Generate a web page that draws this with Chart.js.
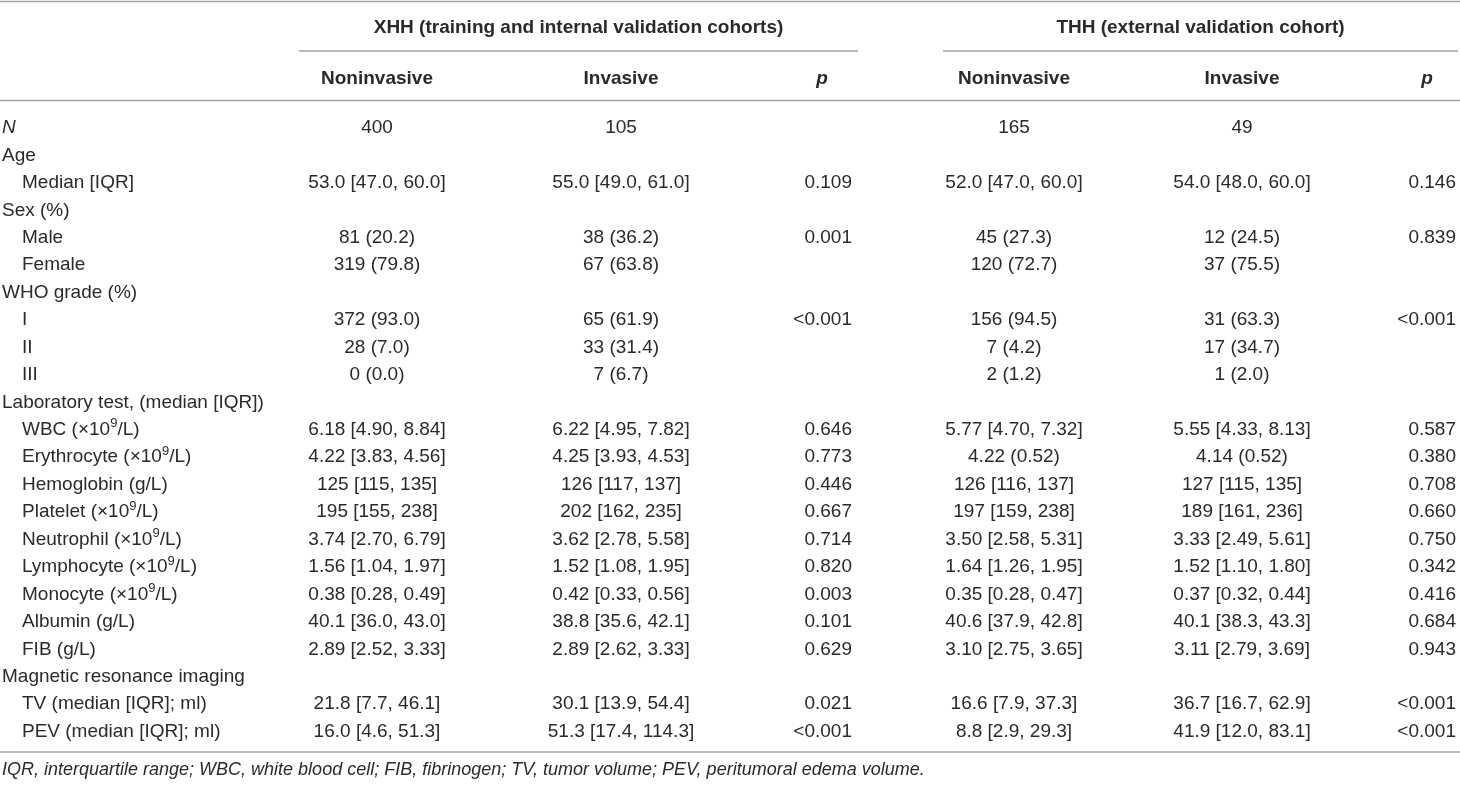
<!DOCTYPE html>
<html>
<head>
<meta charset="utf-8">
<title>Baseline characteristics</title>
<script src="https://cdn.jsdelivr.net/npm/chart.js@4"></script>
<style>
  html, body { margin: 0; padding: 0; background: #fff; }
  #wrap { width: 1460px; height: 785px; position: relative; }
</style>
</head>
<body>
<div id="wrap"><canvas id="tableChart"></canvas></div>
<script>
// table content
const groupLabels = ['XHH (training and internal validation cohorts)', 'THH (external validation cohort)'];
const subHeaders = ['Noninvasive', 'Invasive', 'p', 'Noninvasive', 'Invasive', 'p'];

const rowLabels = ['N', 'Age', 'Median [IQR]', 'Sex (%)', 'Male', 'Female', 'WHO grade (%)', 'I', 'II', 'III',
  'Laboratory test, (median [IQR])', 'WBC (×10⁹/L)', 'Erythrocyte (×10⁹/L)', 'Hemoglobin (g/L)', 'Platelet (×10⁹/L)',
  'Neutrophil (×10⁹/L)', 'Lymphocyte (×10⁹/L)', 'Monocyte (×10⁹/L)', 'Albumin (g/L)', 'FIB (g/L)',
  'Magnetic resonance imaging', 'TV (median [IQR]; ml)', 'PEV (median [IQR]; ml)'];
const rowIndent = [0, 0, 1, 0, 1, 1, 0, 1, 1, 1, 0, 1, 1, 1, 1, 1, 1, 1, 1, 1, 0, 1, 1];

const xhhNoninvasive = ['400', '', '53.0 [47.0, 60.0]', '', '81 (20.2)', '319 (79.8)', '', '372 (93.0)', '28 (7.0)', '0 (0.0)',
  '', '6.18 [4.90, 8.84]', '4.22 [3.83, 4.56]', '125 [115, 135]', '195 [155, 238]', '3.74 [2.70, 6.79]', '1.56 [1.04, 1.97]',
  '0.38 [0.28, 0.49]', '40.1 [36.0, 43.0]', '2.89 [2.52, 3.33]', '', '21.8 [7.7, 46.1]', '16.0 [4.6, 51.3]'];
const xhhInvasive = ['105', '', '55.0 [49.0, 61.0]', '', '38 (36.2)', '67 (63.8)', '', '65 (61.9)', '33 (31.4)', '7 (6.7)',
  '', '6.22 [4.95, 7.82]', '4.25 [3.93, 4.53]', '126 [117, 137]', '202 [162, 235]', '3.62 [2.78, 5.58]', '1.52 [1.08, 1.95]',
  '0.42 [0.33, 0.56]', '38.8 [35.6, 42.1]', '2.89 [2.62, 3.33]', '', '30.1 [13.9, 54.4]', '51.3 [17.4, 114.3]'];
const xhhP = ['', '', '0.109', '', '0.001', '', '', '<0.001', '', '', '', '0.646', '0.773', '0.446', '0.667', '0.714', '0.820',
  '0.003', '0.101', '0.629', '', '0.021', '<0.001'];
const thhNoninvasive = ['165', '', '52.0 [47.0, 60.0]', '', '45 (27.3)', '120 (72.7)', '', '156 (94.5)', '7 (4.2)', '2 (1.2)',
  '', '5.77 [4.70, 7.32]', '4.22 (0.52)', '126 [116, 137]', '197 [159, 238]', '3.50 [2.58, 5.31]', '1.64 [1.26, 1.95]',
  '0.35 [0.28, 0.47]', '40.6 [37.9, 42.8]', '3.10 [2.75, 3.65]', '', '16.6 [7.9, 37.3]', '8.8 [2.9, 29.3]'];
const thhInvasive = ['49', '', '54.0 [48.0, 60.0]', '', '12 (24.5)', '37 (75.5)', '', '31 (63.3)', '17 (34.7)', '1 (2.0)',
  '', '5.55 [4.33, 8.13]', '4.14 (0.52)', '127 [115, 135]', '189 [161, 236]', '3.33 [2.49, 5.61]', '1.52 [1.10, 1.80]',
  '0.37 [0.32, 0.44]', '40.1 [38.3, 43.3]', '3.11 [2.79, 3.69]', '', '36.7 [16.7, 62.9]', '41.9 [12.0, 83.1]'];
const thhP = ['', '', '0.146', '', '0.839', '', '', '<0.001', '', '', '', '0.587', '0.380', '0.708', '0.660', '0.750', '0.342',
  '0.416', '0.684', '0.943', '', '<0.001', '<0.001'];

const footnote = 'IQR, interquartile range; WBC, white blood cell; FIB, fibrinogen; TV, tumor volume; PEV, peritumoral edema volume.';

document.addEventListener("DOMContentLoaded", function () {
  const columns = [xhhNoninvasive, xhhInvasive, xhhP, thhNoninvasive, thhInvasive, thhP];
  const colX = [377, 621, 822, 1014, 1242, 1427];   // header centres on the x scale
  const pRight = { 2: 852, 5: 1456 };                // p values sit flush right
  const groupSpan = [[299, 858], [943, 1458]];
  const FONT = '"Liberation Sans", Arial, sans-serif';
  const INK = '#2a2a2a';
  const RULE = '#a3a3a3';

  // text with a raised "9" for ×10⁹
  function drawRich(ctx, text, x, y, size) {
    const parts = text.split('⁹');
    const base = size + 'px ' + FONT;
    const sup = Math.round(size * 0.68) + 'px ' + FONT;
    let cx = x;
    ctx.textAlign = 'left';
    parts.forEach(function (p, i) {
      ctx.font = base;
      ctx.fillText(p, cx, y);
      cx += ctx.measureText(p).width;
      if (i < parts.length - 1) {
        ctx.font = sup;
        ctx.fillText('9', cx, y - size * 0.4);
        cx += ctx.measureText('9').width;
      }
    });
  }

  function hline(ctx, x1, x2, y) {
    ctx.beginPath();
    ctx.moveTo(x1, y);
    ctx.lineTo(x2, y);
    ctx.stroke();
  }

  const tablePlugin = {
    id: 'tableCells',
    afterDraw: function (chart) {
      const ctx = chart.ctx;
      const xs = chart.scales.x;
      const ys = chart.scales.y;
      const lift = 6.8; // half cap height, baseline below row centre
      ctx.save();
      ctx.fillStyle = INK;
      ctx.strokeStyle = RULE;
      ctx.lineWidth = 1.5;

      // rules
      hline(ctx, 0, chart.width, 1.5);
      groupSpan.forEach(function (s) { hline(ctx, xs.getPixelForValue(s[0]), xs.getPixelForValue(s[1]), 51); });
      hline(ctx, 0, chart.width, 100.5);
      hline(ctx, 0, chart.width, 752);

      // header rows
      ctx.textAlign = 'center';
      ctx.font = 'bold 19px ' + FONT;
      groupLabels.forEach(function (g, i) {
        const mid = (xs.getPixelForValue(groupSpan[i][0]) + xs.getPixelForValue(groupSpan[i][1])) / 2;
        ctx.fillText(g, mid, 26 + lift);
      });
      subHeaders.forEach(function (h, i) {
        ctx.font = (h === 'p' ? 'italic bold 19px ' : 'bold 19px ') + FONT;
        ctx.fillText(h, xs.getPixelForValue(colX[i]), 77 + lift);
      });

      // body rows
      rowLabels.forEach(function (label, r) {
        const y = ys.getPixelForValue(r) + lift;
        if (label === 'N') {
          ctx.textAlign = 'left';
          ctx.font = 'italic 19px ' + FONT;
          ctx.fillText(label, 2, y);
        } else {
          drawRich(ctx, label, rowIndent[r] ? 22 : 2, y, 19);
        }
        ctx.font = '19px ' + FONT;
        columns.forEach(function (col, c) {
          if (!col[r]) return;
          if (pRight[c]) {
            ctx.textAlign = 'right';
            ctx.fillText(col[r], xs.getPixelForValue(pRight[c]), y);
          } else {
            ctx.textAlign = 'center';
            ctx.fillText(col[r], xs.getPixelForValue(colX[c]), y);
          }
        });
      });

      // footnote
      ctx.textAlign = 'left';
      ctx.font = 'italic 18px ' + FONT;
      ctx.fillText(footnote, 2, 769 + 6.4);
      ctx.restore();
    }
  };

  const tableCtx = document.getElementById('tableChart').getContext('2d');
  new Chart(tableCtx, {
    type: 'scatter',
    data: { datasets: [] },
    options: {
      responsive: true,
      maintainAspectRatio: false,
      animation: false,
      layout: { padding: { top: 126.5, bottom: 55, left: 0, right: 0 } },
      plugins: { legend: { display: false }, tooltip: { enabled: false } },
      scales: {
        x: { type: 'linear', min: 0, max: 1460, display: false },
        y: { type: 'category', labels: rowLabels, offset: false, display: false }
      }
    },
    plugins: [tablePlugin]
  });
});
</script>
</body>
</html>
